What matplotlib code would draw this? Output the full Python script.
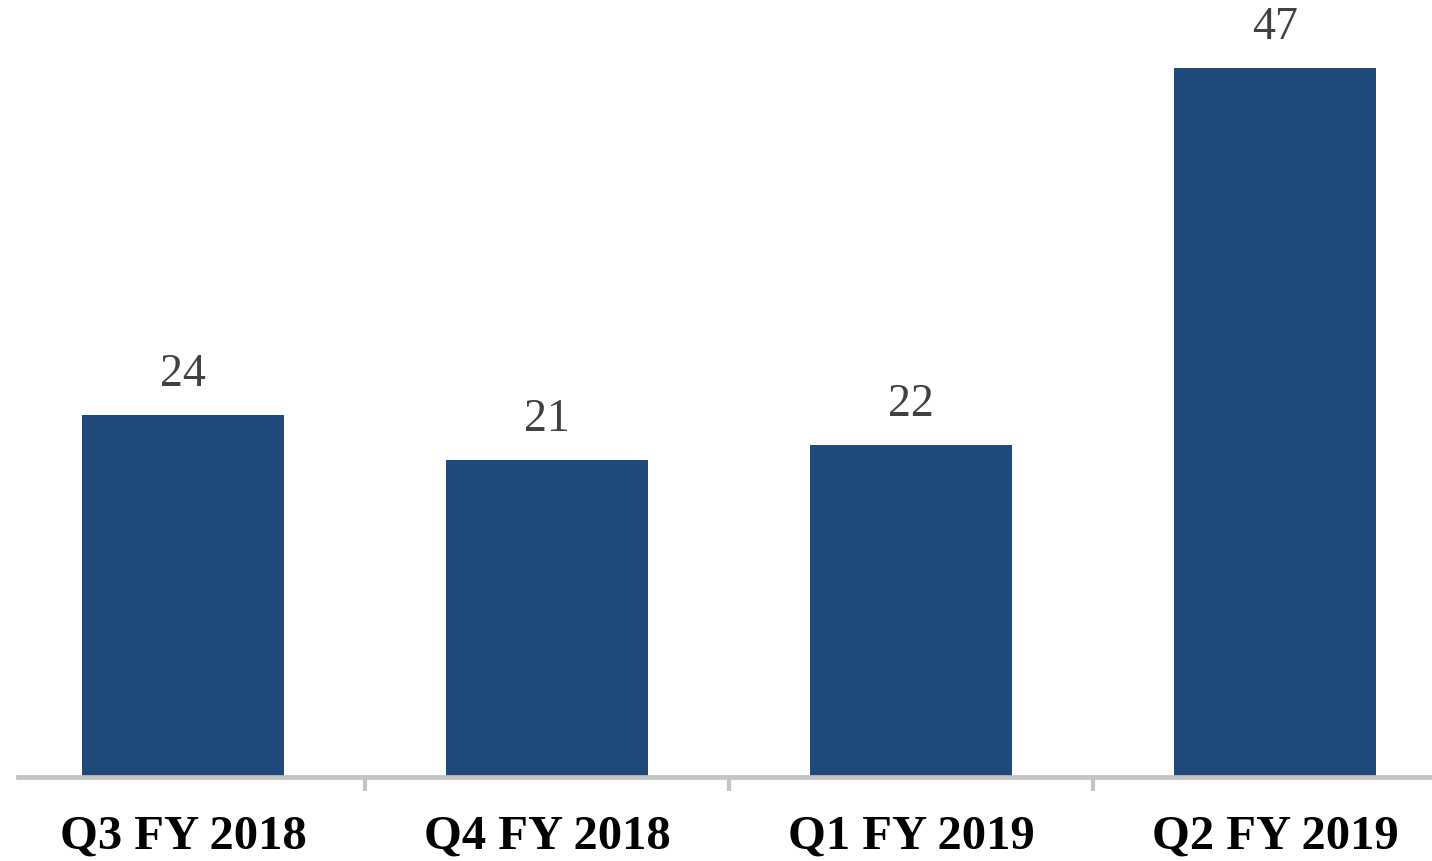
import matplotlib
matplotlib.use("Agg")
import matplotlib.pyplot as plt
from matplotlib.ticker import FixedLocator

categories = ["Q3 FY 2018", "Q4 FY 2018", "Q1 FY 2019", "Q2 FY 2019"]
values = [24, 21, 22, 47]

W, H, DPI = 1432, 861, 100
fig = plt.figure(figsize=(W / DPI, H / DPI), dpi=DPI)
base_px = 777
ax = fig.add_axes([18 / W, (H - base_px) / H, (W - 18) / W, base_px / H])

x = list(range(len(categories)))
ax.bar(x, values, width=0.555, color="#214A7C", zorder=2)
ax.set_xlim(-0.453, 3.431)
ax.set_ylim(0, base_px / 15.09)

for xi, v in zip(x, values):
    ax.text(xi, v + 1.25, str(v), ha="center", va="bottom",
            fontfamily="Liberation Serif", fontsize=33, color="#404040")

for s in ["top", "left", "right"]:
    ax.spines[s].set_visible(False)
ax.spines["bottom"].set_color("#C4C4C4")
ax.spines["bottom"].set_linewidth(3.4)
ax.spines["bottom"].set_zorder(3)

ax.set_yticks([])
ax.set_xticks(x)
ax.set_xticklabels(categories, fontfamily="Liberation Serif", fontweight="bold", fontsize=35)
ax.tick_params(axis="x", which="major", length=0, pad=27)
ax.xaxis.set_minor_locator(FixedLocator([0.5, 1.5, 2.5]))
ax.tick_params(axis="x", which="minor", length=10, width=3, color="#C4C4C4", direction="out")

fig.savefig("out.png", dpi=DPI)
